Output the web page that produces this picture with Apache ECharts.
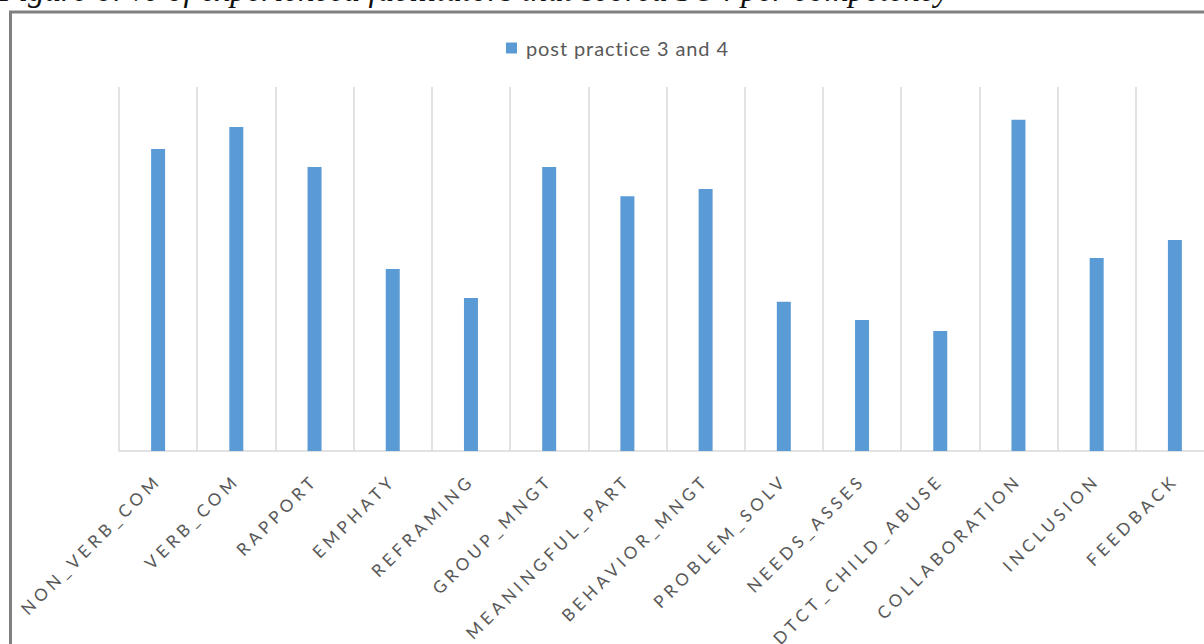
<!DOCTYPE html>
<html>
<head>
<meta charset="utf-8">
<script src="https://cdn.jsdelivr.net/npm/echarts@6/dist/echarts.min.js"></script>
<style>
  html, body { margin: 0; padding: 0; background: #fff; overflow: hidden; }
  #chart { width: 1230px; height: 644px; }
  /* spaced-out category labels (right-anchored) and legend text (left-anchored) */
  #chart svg text[text-anchor="end"] { letter-spacing: 4.3px; }
  #chart svg text[text-anchor="start"] { letter-spacing: 0.9px; }
</style>
</head>
<body>
<div id="chart"></div>
<script>
// Competencies on the category axis
const categories = [
  'NON_VERB_COM', 'VERB_COM', 'RAPPORT', 'EMPHATY', 'REFRAMING',
  'GROUP_MNGT', 'MEANINGFUL_PART', 'BEHAVIOR_MNGT', 'PROBLEM_SOLV',
  'NEEDS_ASSES', 'DTCT_CHILD_ABUSE', 'COLLABORATION', 'INCLUSION', 'FEEDBACK'
];
// % of experienced facilitators scoring 3 or 4 after practice
const seriesName = 'post practice 3 and 4';
const postPractice34 = [83, 89, 78, 50, 42, 78, 70, 72, 41, 36, 33, 91, 53, 58];
const figureTitle = 'Figure 6: % of experienced facilitators that scored 3O4 per competency';

const chart = echarts.init(document.getElementById('chart'), null, { renderer: 'svg' });

chart.setOption({
  animation: false,
  backgroundColor: '#ffffff',
  graphic: [
    {
      type: 'rect',
      shape: { x: 10.5, y: 12, width: 1400, height: 900 },
      style: { fill: 'none', stroke: '#808080', lineWidth: 3 },
      silent: true
    },
    {
      type: 'text',
      x: 474,
      y: -10,
      style: {
        text: figureTitle,
        font: 'italic 33px "Liberation Serif", serif',
        fill: '#111111',
        textAlign: 'center',
        textVerticalAlign: 'middle'
      },
      silent: true
    }
  ],
  legend: {
    left: 506,
    top: 38,
    padding: 0,
    itemWidth: 11,
    itemHeight: 11,
    icon: 'rect',
    textStyle: {
      fontFamily: 'Lato',
      fontSize: 20,
      color: '#595959',
      padding: [0, 0, 0, 4]
    },
    data: [seriesName]
  },
  grid: { left: 119, right: 16, top: 87, bottom: 193 },
  xAxis: {
    type: 'category',
    data: categories,
    boundaryGap: true,
    axisLine: { show: true, lineStyle: { color: '#d9d9d9', width: 1.5 } },
    axisTick: { show: false },
    splitLine: { show: true, lineStyle: { color: '#d9d9d9', width: 1.5 } },
    axisLabel: {
      interval: 0,
      rotate: 45,
      margin: 26,
      fontFamily: 'Lato',
      fontSize: 17,
      color: '#595959'
    }
  },
  yAxis: {
    type: 'value',
    min: 0,
    max: 100,
    show: false,
    splitLine: { show: false }
  },
  series: [
    {
      name: seriesName,
      type: 'bar',
      data: postPractice34,
      barWidth: 14,
      itemStyle: { color: '#5B9BD5' }
    }
  ]
});
</script>
</body>
</html>
